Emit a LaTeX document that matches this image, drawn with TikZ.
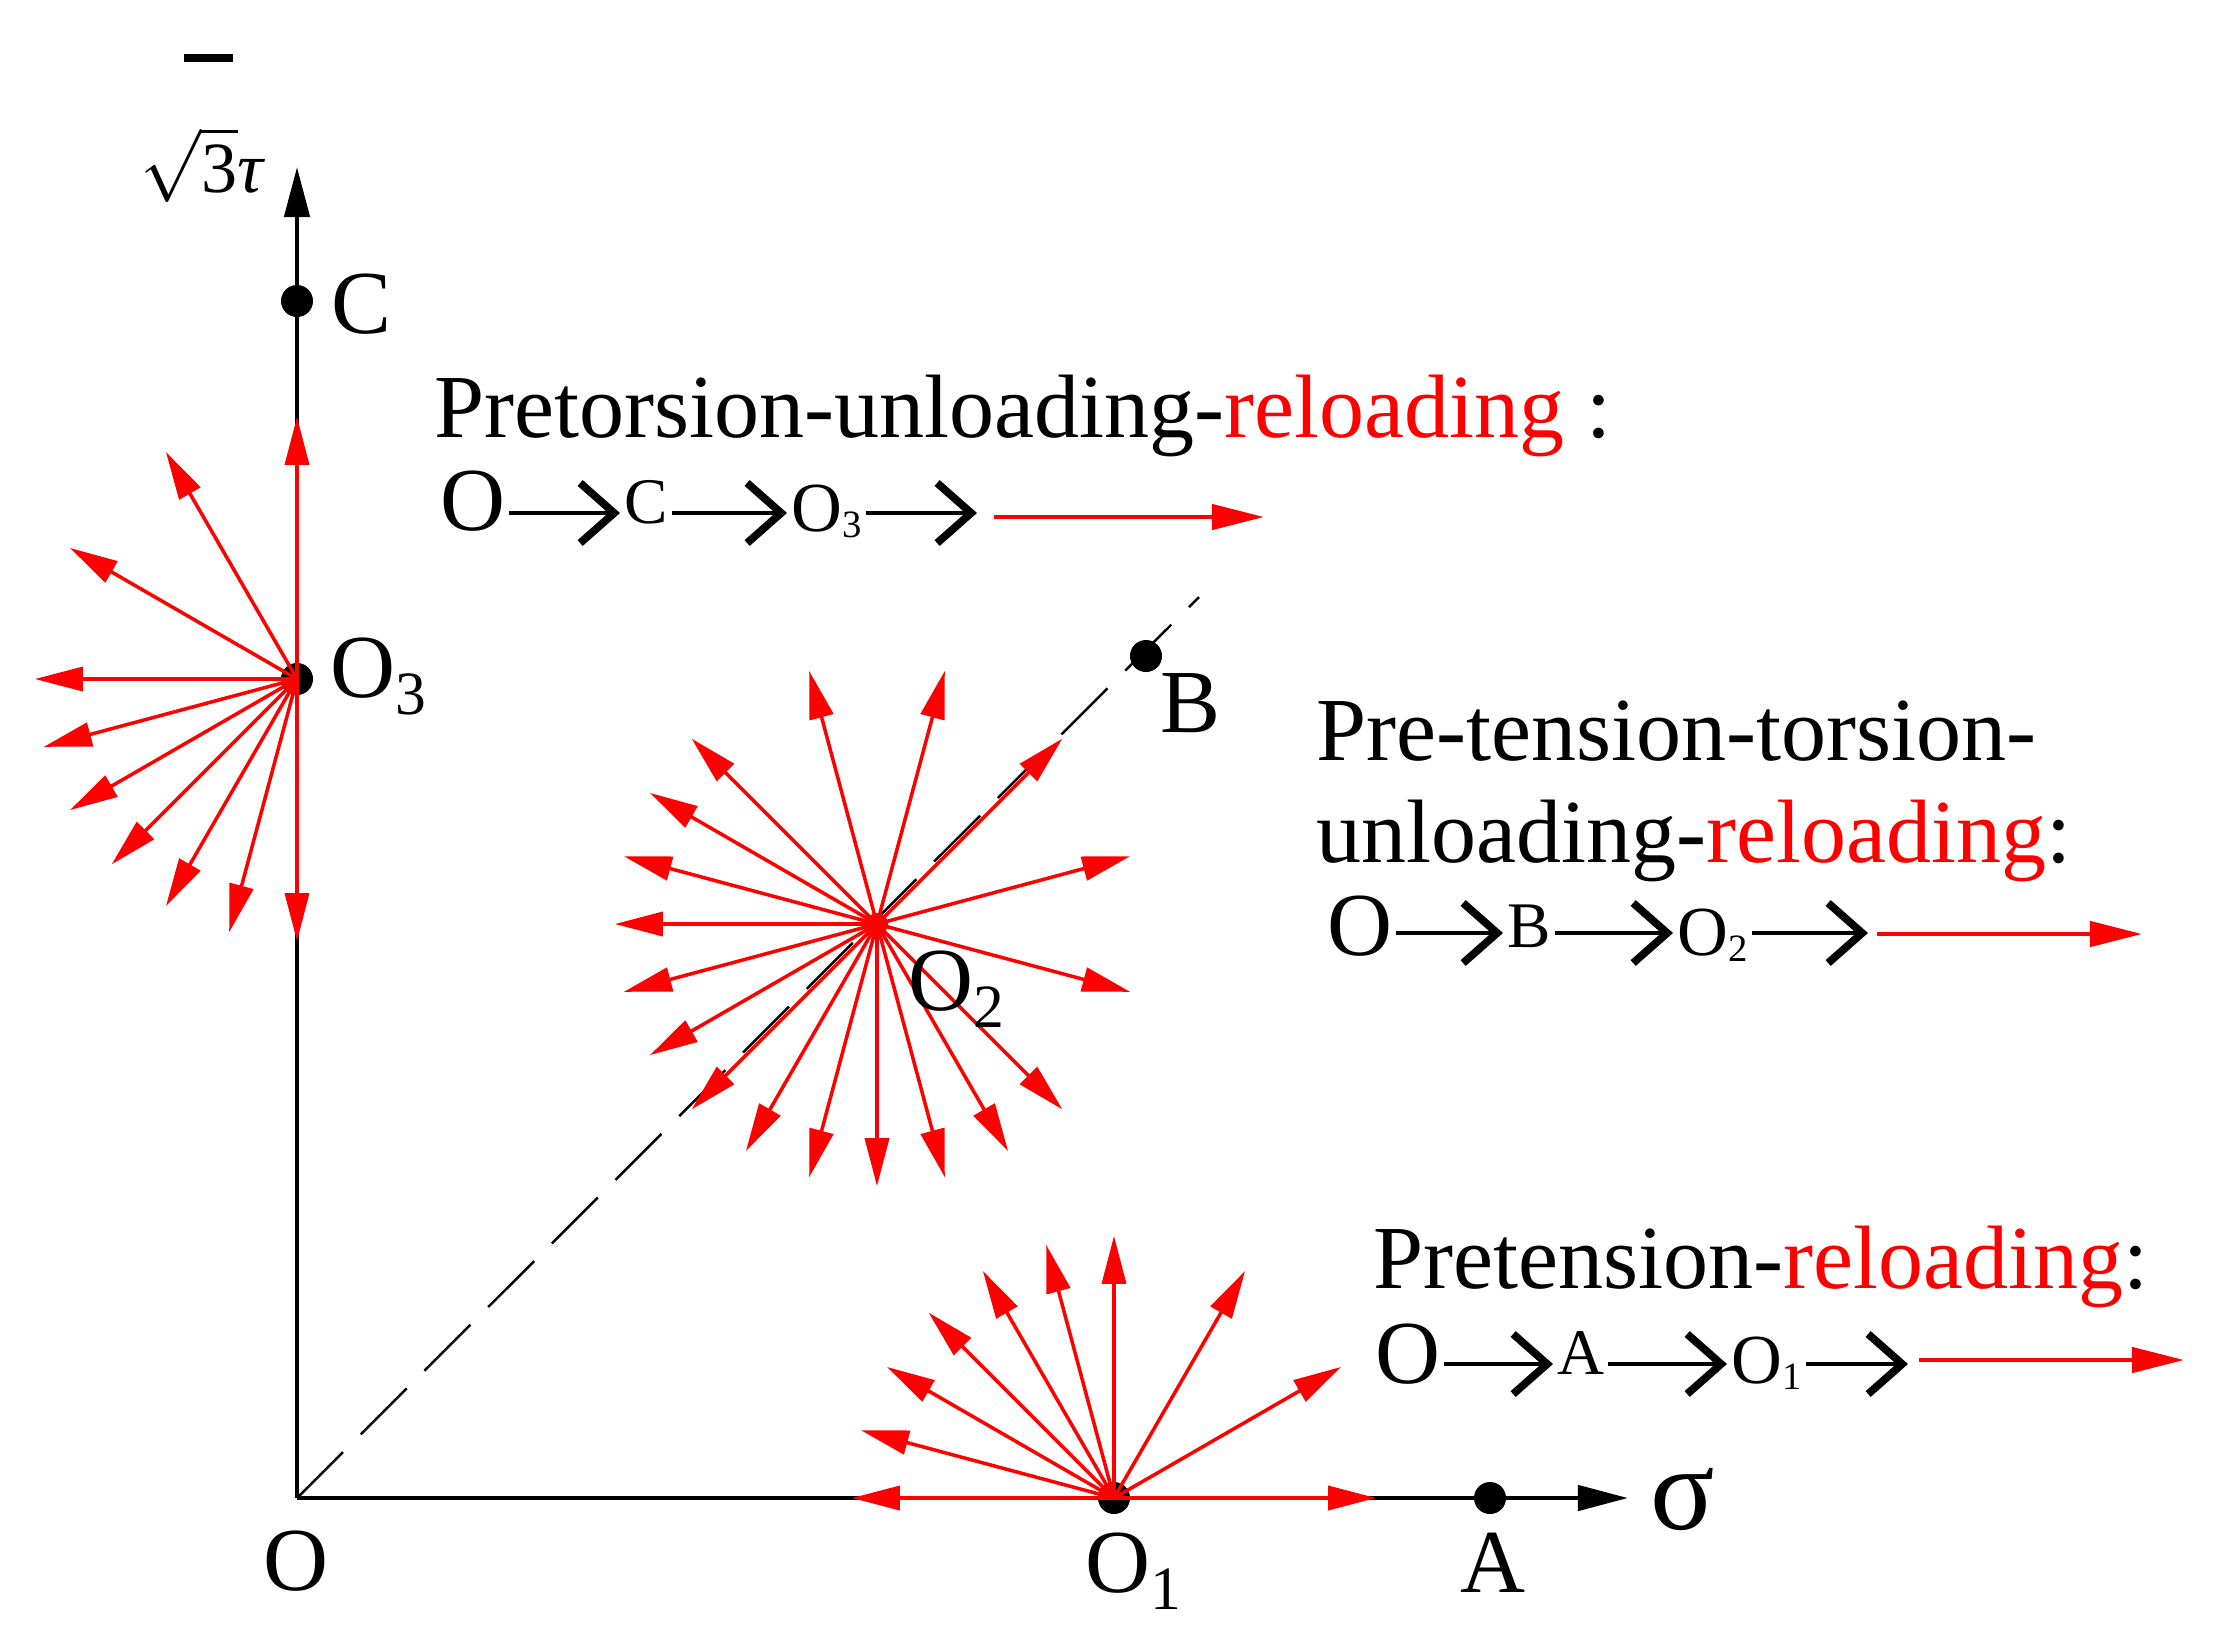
\documentclass[tikz,border=0pt]{standalone}
\usepackage{fontspec}
\setmainfont{Liberation Serif}
\usetikzlibrary{arrows.meta}
\newcommand\bigf{\fontsize{25.6pt}{30pt}\selectfont}
\newcommand\midf{\fontsize{18.5pt}{22pt}\selectfont}
\newcommand\pof{\fontsize{20pt}{24pt}\selectfont}
\newcommand\lsub[1]{\raisebox{-0.17cm}{\fontsize{17.5pt}{20pt}\selectfont #1}}
\newcommand\psub[1]{\raisebox{-0.06cm}{\fontsize{11pt}{13pt}\selectfont #1}}
\begin{document}
\begin{tikzpicture}[x=0.01cm,y=-0.01cm,
  lbl/.style={inner sep=0pt, font=\bigf},
  plbl/.style={inner sep=0pt},
  dot/.style={circle, fill=black, inner sep=0pt, minimum size=0.32cm},
  axis/.style={line width=1.3pt, -{Triangle[length=0.5cm,width=0.25cm]}},
  ray/.style={red, line width=1pt, -{Triangle[length=0.48cm,width=0.24cm]}},
  chev/.style={line width=1.4pt, shorten <=0.03cm, shorten >=0.04cm, -{Straight Barb[length=0.34cm,width=0.6cm,line width=2.2pt]}},
  redarr/.style={red, line width=1.3pt, -{Triangle[length=0.52cm,width=0.25cm]}},
  diag/.style={line width=0.7pt, dash pattern=on 0.65cm off 0.25cm}]
\useasboundingbox (0,0) rectangle (2235,1644);

% axes and diagonal
\coordinate (O) at (297,1498);
\coordinate (ytip) at (297,167);
\coordinate (xtip) at (1628,1498);
\coordinate (dend) at (1199,597);
\draw[diag] (O) -- (dend);
\draw[axis] (O) -- (ytip);
\draw[axis] (O) -- (xtip);

% centres
\node[dot] (O3) at (297,679) {};
\node[dot] (O1) at (1114,1498) {};
\node[dot, fill=red, minimum size=0.22cm] (O2) at (877,924) {};

% red rays
\foreach \a in {90,120,150,180,195,210,225,240,255,270}
  \draw[ray] (O3.center) -- ++(\a:2.62cm);
\foreach \a in {105,75,45,15,-15,-45,-60,-75,-90,-105,-120,-135,-150,-165,180,165,150,135}
  \draw[ray] (O2.center) -- ++(\a:2.62cm);
\foreach \a in {0,30,60,90,105,120,135,150,165,180}
  \draw[ray] (O1.center) -- ++(\a:2.62cm);

% other points
\node[dot] (C) at (297,301) {};
\node[dot] (B) at (1146,656) {};
\node[dot] (A) at (1490,1498) {};

% point labels
\node[lbl, anchor=base west] (Cl) at (331,333) {C};
\node[lbl, anchor=base west] (O3l) at (330,697) {O\lsub{3}};
\node[lbl, anchor=base west] (Bl) at (1160,732) {B};
\node[lbl, anchor=base west] (O2l) at (908,1010) {O\lsub{2}};
\node[lbl, anchor=base west] (O1l) at (1085,1592) {O\lsub{1}};
\node[lbl, anchor=base] (Al) at (1493,1592) {A};
\node[lbl, anchor=base] (Ol) at (296,1590) {O};
\node[inner sep=0pt, font=\fontsize{34pt}{40pt}\selectfont, anchor=base west] (sig) at (1650,1529) {σ};
\node[inner sep=0pt, font=\fontsize{20.5pt}{24pt}\selectfont, anchor=base west] (tau) at (140,192) {$\sqrt{\mbox{3}}\mbox{\itshape τ}$};
\draw[line width=2pt] (184,58) -- (233,58);

% titles
\node[lbl, anchor=base west] (t1) at (434,437) {Pretorsion-unloading-\textcolor{red}{reloading}\hspace{0.22cm}:};
\node[lbl, anchor=base west] (t2a) at (1316,760) {Pre-tension-torsion-};
\node[lbl, anchor=base west] (t2b) at (1316,862) {unloading-\textcolor{red}{reloading}:};
\node[lbl, anchor=base west] (t3) at (1373,1288) {Pretension-\textcolor{red}{reloading}:};

% path line 1
\node[plbl, font=\bigf, anchor=base west] (p1O) at (440,530) {O};
\node[plbl, font=\midf, anchor=base west] (p1C) at (624,523) {C};
\node[plbl, font=\pof, anchor=base west] (p1O3) at (791,531) {O\psub{3}};
\coordinate (p1y) at (0,513);
\coordinate (p1e) at (977,513);
\coordinate (p1r0) at (994,517);
\coordinate (p1r1) at (1264,517);
\draw[chev] (p1O.east |- p1y) -- (p1C.west |- p1y);
\draw[chev] (p1C.east |- p1y) -- (p1O3.west |- p1y);
\draw[chev, shorten >=0pt] (p1O3.east |- p1y) -- (p1e);
\draw[redarr] (p1r0) -- (p1r1);

% path line 2
\node[plbl, font=\bigf, anchor=base west] (p2O) at (1327,955) {O};
\node[plbl, font=\midf, anchor=base west] (p2B) at (1507,947) {B};
\node[plbl, font=\pof, anchor=base west] (p2O2) at (1677,955) {O\psub{2}};
\coordinate (p2y) at (0,933);
\coordinate (p2e) at (1868,933);
\coordinate (p2r0) at (1877,934);
\coordinate (p2r1) at (2142,934);
\draw[chev] (p2O.east |- p2y) -- (p2B.west |- p2y);
\draw[chev] (p2B.east |- p2y) -- (p2O2.west |- p2y);
\draw[chev, shorten >=0pt] (p2O2.east |- p2y) -- (p2e);
\draw[redarr] (p2r0) -- (p2r1);

% path line 3
\node[plbl, font=\bigf, anchor=base west] (p3O) at (1375,1383) {O};
\node[plbl, font=\midf, anchor=base west] (p3A) at (1557,1374) {A};
\node[plbl, font=\pof, anchor=base west] (p3O1) at (1731,1383) {O\psub{1}};
\coordinate (p3y) at (0,1364);
\coordinate (p3e) at (1908,1364);
\coordinate (p3r0) at (1919,1360);
\coordinate (p3r1) at (2184,1360);
\draw[chev] (p3O.east |- p3y) -- (p3A.west |- p3y);
\draw[chev] (p3A.east |- p3y) -- (p3O1.west |- p3y);
\draw[chev, shorten >=0pt] (p3O1.east |- p3y) -- (p3e);
\draw[redarr] (p3r0) -- (p3r1);
\end{tikzpicture}
\end{document}
